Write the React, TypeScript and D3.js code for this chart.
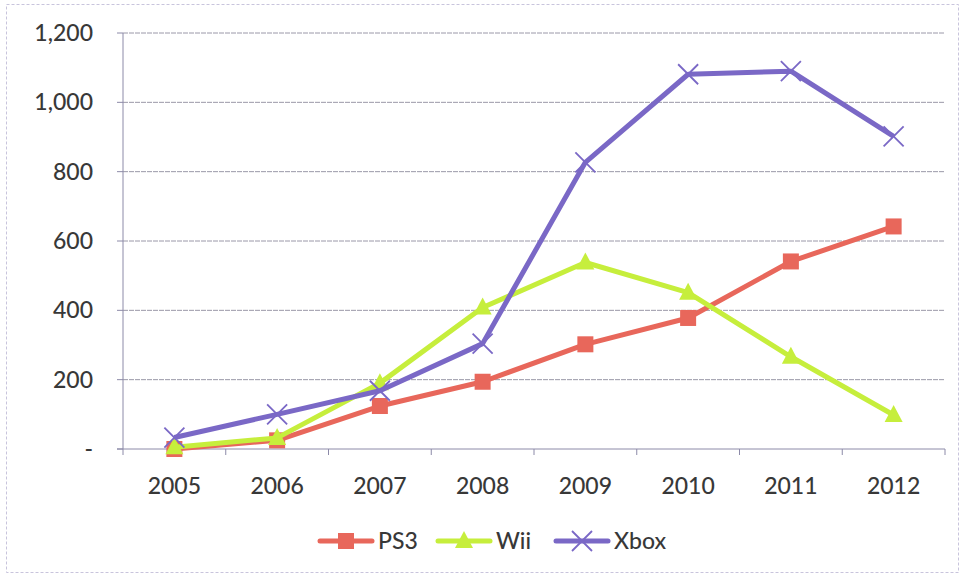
import React, { useEffect, useRef } from "react";
import * as d3 from "d3";

const years = ["2005", "2006", "2007", "2008", "2009", "2010", "2011", "2012"];
const ps3 = [0, 25, 124, 194, 302, 378, 541, 642];
const wii = [5, 32, 190, 408, 538, 451, 266, 98];
const xbox = [33, 100, 168, 304, 827, 1081, 1090, 902];
const yTicks = [0, 200, 400, 600, 800, 1000, 1200];

const seriesNames = ["PS3", "Wii", "Xbox"];
const seriesColors = ["#e8675b", "#c6ee3c", "#7a68c6"];
const seriesMarkers = ["square", "triangle", "cross"];

const W = 964;
const H = 577;
const M = { left: 123, right: 19, top: 33, bottom: 129 };

function drawMarker(g: any, kind: string, x: number, y: number, color: string) {
  if (kind === "square") {
    g.append("rect").attr("x", x - 8).attr("y", y - 8).attr("width", 16).attr("height", 16).attr("fill", color);
  } else if (kind === "triangle") {
    g.append("path")
      .attr("d", `M${x},${y - 10}L${x + 9},${y + 7}L${x - 9},${y + 7}Z`)
      .attr("fill", color);
  } else {
    g.append("path")
      .attr("d", `M${x - 10},${y - 10}L${x + 10},${y + 10}M${x - 10},${y + 10}L${x + 10},${y - 10}`)
      .attr("stroke", color)
      .attr("stroke-width", 1.8)
      .attr("fill", "none");
  }
}

export default function App() {
  const ref = useRef<SVGSVGElement>(null);

  useEffect(() => {
    const svg = d3.select(ref.current);
    svg.selectAll("*").remove();

    // outer frame
    svg.append("rect")
      .attr("x", 6.5).attr("y", 4.5).attr("width", 952).attr("height", 568)
      .attr("fill", "white").attr("stroke", "#c8c4dc").attr("stroke-width", 1)
      .attr("stroke-dasharray", "3,2");

    const x = d3.scaleBand().domain(years).range([M.left, W - M.right]);
    const y = d3.scaleLinear().domain([0, 1200]).range([H - M.bottom + 1, M.top]);

    const font = "Lato, 'Open Sans', sans-serif";
    const textColor = "#383838";

    // gridlines
    svg.append("g").selectAll("line").data(yTicks.filter((t) => t > 0)).join("line")
      .attr("x1", M.left).attr("x2", W - M.right)
      .attr("y1", (d) => y(d)).attr("y2", (d) => y(d))
      .attr("stroke", "#9a98a8").attr("stroke-width", 1).attr("stroke-dasharray", "5,1");

    // axes
    svg.append("line").attr("x1", M.left).attr("x2", M.left).attr("y1", y(1200)).attr("y2", y(0))
      .attr("stroke", "#8c8aa8").attr("stroke-width", 1);
    svg.append("line").attr("x1", M.left - 6).attr("x2", W - M.right).attr("y1", y(0)).attr("y2", y(0))
      .attr("stroke", "#8c8aa8").attr("stroke-width", 1);
    svg.append("g").selectAll("line").data(yTicks).join("line")
      .attr("x1", M.left - 6).attr("x2", M.left).attr("y1", (d) => y(d)).attr("y2", (d) => y(d))
      .attr("stroke", "#8c8aa8");
    const bounds = years.map((yr) => x(yr) as number).concat([W - M.right]);
    svg.append("g").selectAll("line").data(bounds).join("line")
      .attr("x1", (d) => d).attr("x2", (d) => d).attr("y1", y(0)).attr("y2", y(0) + 6)
      .attr("stroke", "#8c8aa8");

    // y labels
    svg.append("g").selectAll("text").data(yTicks).join("text")
      .attr("x", 93).attr("y", (d) => y(d)).attr("dy", "0.35em")
      .attr("text-anchor", "end").attr("font-family", font).attr("font-size", 23)
      .attr("font-weight", 500).attr("fill", textColor)
      .text((d) => (d === 0 ? "-" : d3.format(",")(d)));

    // x labels
    svg.append("g").selectAll("text").data(years).join("text")
      .attr("x", (d) => (x(d) as number) + x.bandwidth() / 2).attr("y", 494)
      .attr("text-anchor", "middle").attr("font-family", font).attr("font-size", 23)
      .attr("font-weight", 500).attr("fill", textColor).text((d) => d);

    const data = [ps3, wii, xbox];
    const cx = (i: number) => (x(years[i]) as number) + x.bandwidth() / 2;
    const line = d3.line<number>().x((_, i) => cx(i)).y((d) => y(d));

    data.forEach((vals, s) => {
      const g = svg.append("g");
      g.append("path").attr("d", line(vals)).attr("fill", "none")
        .attr("stroke", seriesColors[s]).attr("stroke-width", 5).attr("stroke-linejoin", "round");
      vals.forEach((v, i) => drawMarker(g, seriesMarkers[s], cx(i), y(v), seriesColors[s]));
    });

    // legend
    const legendX = [320, 438, 556];
    seriesNames.forEach((name, s) => {
      const g = svg.append("g");
      const lx = legendX[s];
      const ly = 541;
      g.append("line").attr("x1", lx).attr("x2", lx + 52).attr("y1", ly).attr("y2", ly)
        .attr("stroke", seriesColors[s]).attr("stroke-width", 5).attr("stroke-linecap", "round");
      drawMarker(g, seriesMarkers[s], lx + 26, ly, seriesColors[s]);
      g.append("text").attr("x", lx + 58).attr("y", ly).attr("dy", "0.35em")
        .attr("font-family", font).attr("font-size", 23).attr("font-weight", 500)
        .attr("fill", textColor).text(name);
    });
  }, []);

  return (
    <svg ref={ref} width={W} height={H} style={{ position: "absolute", left: 0, top: 0 }} />
  );
}
